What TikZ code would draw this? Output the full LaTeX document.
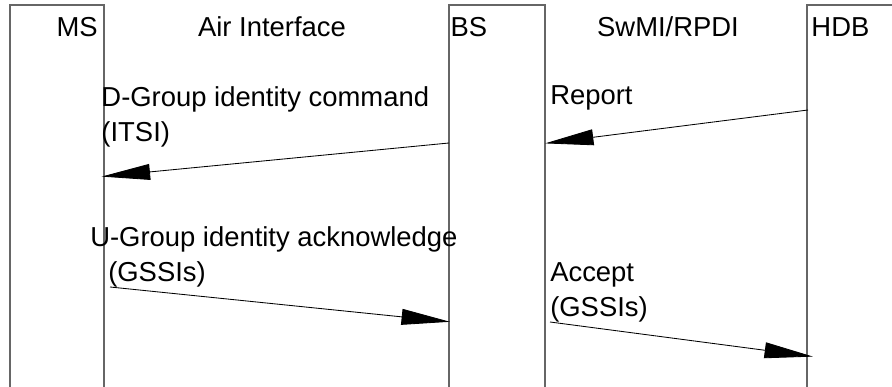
\documentclass[tikz,border=0pt]{standalone}
\usepackage{fontspec}
\setmainfont{Liberation Sans}
\usetikzlibrary{arrows.meta,positioning}

\begin{document}
\begin{tikzpicture}[font=\fontsize{19.5}{25}\selectfont,
    lifeline/.style={black!60,line width=0.8pt},
    msgarrow/.style={-{Triangle[length=34.5pt,width=11.3pt]},line width=0.6pt},
    lbl/.style={inner sep=0pt,align=left}]
  \useasboundingbox (0,0) rectangle (22.3,9.675);
  % lifeline boxes, open at the bottom
  \draw[lifeline] (0.25,0) |- (2.6,9.55) -- (2.6,0);
  \draw[lifeline] (11.225,0) |- (13.625,9.55) -- (13.625,0);
  \draw[lifeline] (20.175,0) |- (22.4,9.55);
  % headings
  \node[lbl,anchor=base east] (ms) at (2.45,8.75) {MS};
  \node[lbl,anchor=base] (air) at (6.8,8.75) {Air Interface};
  \node[lbl,anchor=base west] (bs) at (11.26,8.75) {BS};
  \node[lbl,anchor=base] (swmi) at (16.7,8.75) {SwMI/RPDI};
  \node[lbl,anchor=base west] (hdb) at (20.28,8.75) {HDB};
  % message end points
  \coordinate (bsA) at (11.225,6.1);
  \coordinate (msA) at (2.54,5.26);
  \coordinate (hdbB) at (20.2,6.925);
  \coordinate (bsB) at (13.625,6.09);
  \coordinate (msC) at (2.75,2.5);
  \coordinate (bsC) at (11.25,1.63);
  \coordinate (bsD) at (13.75,1.625);
  \coordinate (hdbD) at (20.325,0.76);
  % messages (base = last line of the label)
  \draw[msgarrow] (bsA) -- (msA);
  \node[lbl,anchor=base west] (cmd) at (2.53,6.13) {D-Group identity command\\(ITSI)};
  \draw[msgarrow] (hdbB) -- (bsB);
  \node[lbl,anchor=base west] (rep) at (13.75,7.06) {Report};
  \draw[msgarrow] (msC) -- (bsC);
  \node[lbl,anchor=base west] (ack) at (2.25,2.63)
    {U-Group identity acknowledge\\\hspace*{0.45cm}(GSSIs)};
  \draw[msgarrow] (bsD) -- (hdbD);
  \node[lbl,anchor=base west] (acc) at (13.75,1.76) {Accept\\(GSSIs)};
\end{tikzpicture}
\end{document}
